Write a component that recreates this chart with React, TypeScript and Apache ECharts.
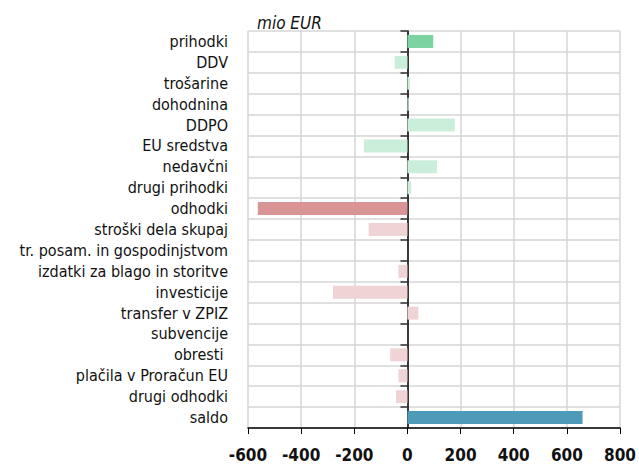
import React, { useEffect, useRef } from "react";
import * as echarts from "echarts";

const categories = [
  "prihodki",
  "DDV",
  "trošarine",
  "dohodnina",
  "DDPO",
  "EU sredstva",
  "nedavčni",
  "drugi prihodki",
  "odhodki",
  "stroški dela skupaj",
  "tr. posam. in gospodinjstvom",
  "izdatki za blago in storitve",
  "investicije",
  "transfer v ZPIZ",
  "subvencije",
  "obresti ",
  "plačila v Proračun EU",
  "drugi odhodki",
  "saldo",
];

const values = [97, -48, 10, 5, 178, -164, 111, 14, -563, -146, 0, -34, -280, 41, 0, -65, -34, -43, 659];

const barColors = [
  "#7ad3a0",
  "#cbeedb", "#cbeedb", "#cbeedb", "#cbeedb", "#cbeedb", "#cbeedb", "#cbeedb",
  "#d99595",
  "#f0d4d5", "#f0d4d5", "#f0d4d5", "#f0d4d5", "#f0d4d5", "#f0d4d5", "#f0d4d5", "#f0d4d5", "#f0d4d5",
  "#4e9ab9",
];

const FONT = "'DejaVu Sans Condensed', sans-serif";

export default function App() {
  const ref = useRef<HTMLDivElement>(null);
  useEffect(() => {
    if (!ref.current) return;
    const chart = echarts.init(ref.current, null, { renderer: "svg" });
    chart.setOption({
      animation: false,
      title: {
        text: "mio EUR",
        left: 252,
        top: 9,
        textStyle: { fontFamily: FONT, fontStyle: "italic", fontWeight: "normal", fontSize: 17, color: "#111" },
      },
      grid: { left: 248, right: 15, top: 31, bottom: 40, containLabel: false },
      xAxis: {
        type: "value",
        min: -600,
        max: 800,
        interval: 200,
        axisLine: { show: true, onZero: false, lineStyle: { color: "#000", width: 1.5 } },
        axisTick: { show: true, length: 6, lineStyle: { color: "#000" } },
        axisLabel: { fontFamily: FONT, fontSize: 17, fontWeight: "bold", color: "#111", margin: 18 },
        splitLine: { show: true, lineStyle: { color: "#d6d6d6", width: 1.5 } },
      },
      yAxis: [
        {
          type: "category",
          data: categories,
          inverse: true,
          position: "left",
          axisLine: { show: false, onZero: false },
          axisTick: { show: false },
          axisLabel: { fontFamily: FONT, fontSize: 16, color: "#111", margin: 20, interval: 0 },
          splitLine: { show: true, interval: 0, lineStyle: { color: "#d6d6d6", width: 1.5 } },
        },
        {
          type: "category",
          data: categories,
          inverse: true,
          position: "left",
          axisLine: { show: true, onZero: true, lineStyle: { color: "#000", width: 1.5 } },
          axisTick: { show: true, interval: 0, length: 7, lineStyle: { color: "#333", width: 1.5 } },
          axisLabel: { show: false, interval: 0 },
          splitLine: { show: false },
        },
      ],
      series: [
        {
          type: "bar",
          yAxisIndex: 0,
          barWidth: 13,
          data: values.map((v, i) => ({ value: v, itemStyle: { color: barColors[i] } })),
        },
      ],
    });
    return () => chart.dispose();
  }, []);
  return <div ref={ref} style={{ width: 639, height: 468, position: "absolute", left: 0, top: 0 }} />;
}
